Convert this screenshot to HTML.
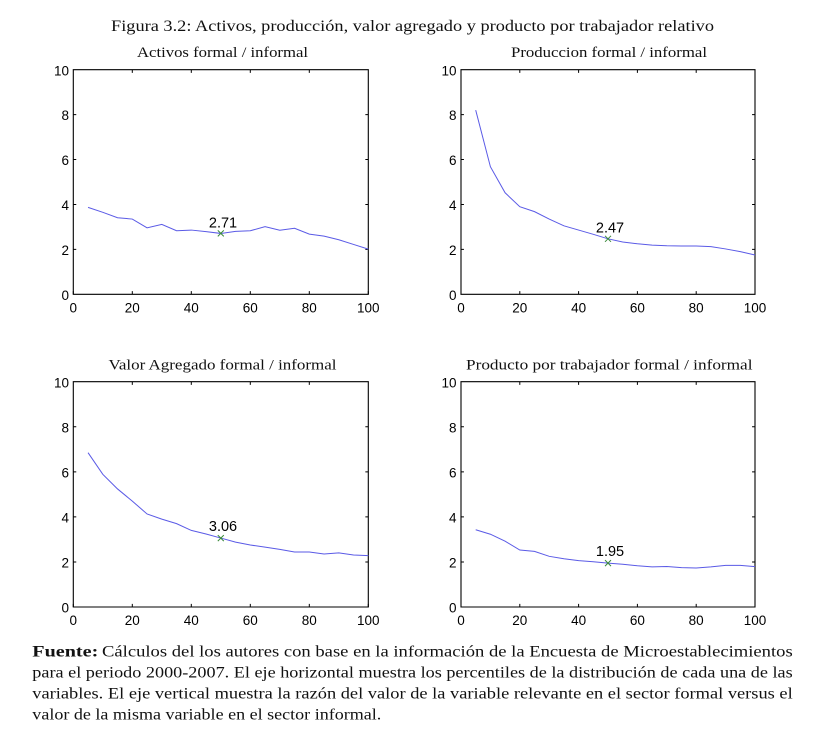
<!DOCTYPE html>
<html><head><meta charset="utf-8"><style>
html,body{margin:0;padding:0;background:#fff;}
svg{display:block;}
.t{font-family:"Liberation Sans",Arial,sans-serif;font-size:13.5px;fill:#000;}
.a{font-family:"Liberation Sans",Arial,sans-serif;font-size:14.5px;fill:#000;}
.s{font-family:"Liberation Serif","Times New Roman",serif;fill:#111;}
</style></head><body>
<svg width="838" height="738" viewBox="0 0 838 738" xmlns="http://www.w3.org/2000/svg">
<rect width="838" height="738" fill="#fff"/>
<!-- Title -->
<text class="s" x="111" y="31" font-size="16" textLength="603" lengthAdjust="spacingAndGlyphs">Figura 3.2: Activos, producción, valor agregado y producto por trabajador relativo</text>
<text class="s" x="137" y="57" font-size="15" textLength="171" lengthAdjust="spacingAndGlyphs">Activos formal / informal</text>
<text class="s" x="511" y="57" font-size="15" textLength="196" lengthAdjust="spacingAndGlyphs">Produccion formal / informal</text>
<text class="s" x="108.5" y="369.5" font-size="15" textLength="228" lengthAdjust="spacingAndGlyphs">Valor Agregado formal / informal</text>
<text class="s" x="466" y="369.5" font-size="15" textLength="286.5" lengthAdjust="spacingAndGlyphs">Producto por trabajador formal / informal</text>

<!-- Panel 1 -->
<g transform="translate(73.3,294.3) scale(2.95,-22.46)" fill="none">
<path d="M0,0 V0.14 M20,0 V0.14 M40,0 V0.14 M60,0 V0.14 M80,0 V0.14 M100,0 V0.14 M20,10 V9.86 M40,10 V9.86 M60,10 V9.86 M80,10 V9.86 M0,2 H1 M0,4 H1 M0,6 H1 M0,8 H1 M100,2 H99 M100,4 H99 M100,6 H99 M100,8 H99" stroke="#000" vector-effect="non-scaling-stroke" stroke-width="1"/>
<rect x="0" y="0" width="100" height="10" stroke="#000" vector-effect="non-scaling-stroke" stroke-width="1.1"/>
<polyline points="5,3.87 10,3.65 15,3.41 20,3.35 25,2.96 30,3.11 35,2.83 40,2.86 45,2.79 50,2.71 55,2.8 60,2.83 65,3.01 70,2.85 75,2.94 80,2.68 85,2.59 90,2.43 95,2.22 100,2.01" stroke="#5a5ae6" vector-effect="non-scaling-stroke" stroke-width="1"/>
</g>
<path d="M217.8,230.4 l6,6 M223.8,230.4 l-6,6" stroke="#3a8a3a" stroke-width="1"/>
<text class="a" x="223" y="227.5" text-anchor="middle">2.71</text>
<g class="t" text-anchor="end">
<text x="69" y="300">0</text><text x="69" y="255">2</text><text x="69" y="210">4</text><text x="69" y="165">6</text><text x="69" y="120">8</text><text x="69" y="75.5">10</text>
</g>
<g class="t" text-anchor="middle">
<text x="73.3" y="312.5">0</text><text x="132.3" y="312.5">20</text><text x="191.3" y="312.5">40</text><text x="250.3" y="312.5">60</text><text x="309.3" y="312.5">80</text><text x="368.3" y="312.5">100</text>
</g>

<!-- Panel 2 -->
<g transform="translate(461,294.3) scale(2.94,-22.46)" fill="none">
<path d="M0,0 V0.14 M20,0 V0.14 M40,0 V0.14 M60,0 V0.14 M80,0 V0.14 M100,0 V0.14 M20,10 V9.86 M40,10 V9.86 M60,10 V9.86 M80,10 V9.86 M0,2 H1 M0,4 H1 M0,6 H1 M0,8 H1 M100,2 H99 M100,4 H99 M100,6 H99 M100,8 H99" stroke="#000" vector-effect="non-scaling-stroke" stroke-width="1"/>
<rect x="0" y="0" width="100" height="10" stroke="#000" vector-effect="non-scaling-stroke" stroke-width="1.1"/>
<polyline points="5,8.2 10,5.68 15,4.52 20,3.9 25,3.68 30,3.35 35,3.05 40,2.86 45,2.67 50,2.47 55,2.33 60,2.25 65,2.19 70,2.16 75,2.15 80,2.15 85,2.12 90,2.02 95,1.9 100,1.75" stroke="#5a5ae6" vector-effect="non-scaling-stroke" stroke-width="1"/>
</g>
<path d="M605,235.8 l6,6 M611,235.8 l-6,6" stroke="#3a8a3a" stroke-width="1"/>
<text class="a" x="610" y="232.5" text-anchor="middle">2.47</text>
<g class="t" text-anchor="end">
<text x="456.5" y="300">0</text><text x="456.5" y="255">2</text><text x="456.5" y="210">4</text><text x="456.5" y="165">6</text><text x="456.5" y="120">8</text><text x="456.5" y="75.5">10</text>
</g>
<g class="t" text-anchor="middle">
<text x="461" y="312.5">0</text><text x="519.8" y="312.5">20</text><text x="578.6" y="312.5">40</text><text x="637.4" y="312.5">60</text><text x="696.2" y="312.5">80</text><text x="755" y="312.5">100</text>
</g>

<!-- Panel 3 -->
<g transform="translate(73.3,607) scale(2.95,-22.53)" fill="none">
<path d="M0,0 V0.14 M20,0 V0.14 M40,0 V0.14 M60,0 V0.14 M80,0 V0.14 M100,0 V0.14 M20,10 V9.86 M40,10 V9.86 M60,10 V9.86 M80,10 V9.86 M0,2 H1 M0,4 H1 M0,6 H1 M0,8 H1 M100,2 H99 M100,4 H99 M100,6 H99 M100,8 H99" stroke="#000" vector-effect="non-scaling-stroke" stroke-width="1"/>
<rect x="0" y="0" width="100" height="10" stroke="#000" vector-effect="non-scaling-stroke" stroke-width="1.1"/>
<polyline points="5,6.85 10,5.89 15,5.24 20,4.7 25,4.13 30,3.9 35,3.7 40,3.4 45,3.24 50,3.06 55,2.88 60,2.75 65,2.66 70,2.56 75,2.44 80,2.44 85,2.35 90,2.4 95,2.31 100,2.28" stroke="#5a5ae6" vector-effect="non-scaling-stroke" stroke-width="1"/>
</g>
<path d="M217.8,535.1 l6,6 M223.8,535.1 l-6,6" stroke="#3a8a3a" stroke-width="1"/>
<text class="a" x="223" y="531" text-anchor="middle">3.06</text>
<g class="t" text-anchor="end">
<text x="69" y="612.5">0</text><text x="69" y="567.5">2</text><text x="69" y="522.5">4</text><text x="69" y="477.5">6</text><text x="69" y="432.5">8</text><text x="69" y="387.5">10</text>
</g>
<g class="t" text-anchor="middle">
<text x="73.3" y="625">0</text><text x="132.3" y="625">20</text><text x="191.3" y="625">40</text><text x="250.3" y="625">60</text><text x="309.3" y="625">80</text><text x="368.3" y="625">100</text>
</g>

<!-- Panel 4 -->
<g transform="translate(461,607) scale(2.94,-22.53)" fill="none">
<path d="M0,0 V0.14 M20,0 V0.14 M40,0 V0.14 M60,0 V0.14 M80,0 V0.14 M100,0 V0.14 M20,10 V9.86 M40,10 V9.86 M60,10 V9.86 M80,10 V9.86 M0,2 H1 M0,4 H1 M0,6 H1 M0,8 H1 M100,2 H99 M100,4 H99 M100,6 H99 M100,8 H99" stroke="#000" vector-effect="non-scaling-stroke" stroke-width="1"/>
<rect x="0" y="0" width="100" height="10" stroke="#000" vector-effect="non-scaling-stroke" stroke-width="1.1"/>
<polyline points="5,3.43 10,3.23 15,2.92 20,2.53 25,2.47 30,2.25 35,2.14 40,2.06 45,2.01 50,1.95 55,1.9 60,1.83 65,1.78 70,1.8 75,1.75 80,1.73 85,1.78 90,1.85 95,1.85 100,1.79" stroke="#5a5ae6" vector-effect="non-scaling-stroke" stroke-width="1"/>
</g>
<path d="M605,560.1 l6,6 M611,560.1 l-6,6" stroke="#3a8a3a" stroke-width="1"/>
<text class="a" x="610" y="556" text-anchor="middle">1.95</text>
<g class="t" text-anchor="end">
<text x="456.5" y="612.5">0</text><text x="456.5" y="567.5">2</text><text x="456.5" y="522.5">4</text><text x="456.5" y="477.5">6</text><text x="456.5" y="432.5">8</text><text x="456.5" y="387.5">10</text>
</g>
<g class="t" text-anchor="middle">
<text x="461" y="625">0</text><text x="519.8" y="625">20</text><text x="578.6" y="625">40</text><text x="637.4" y="625">60</text><text x="696.2" y="625">80</text><text x="755" y="625">100</text>
</g>

<!-- Caption -->
<text class="s" x="32.3" y="656.5" font-size="15.5" font-weight="bold" textLength="66" lengthAdjust="spacingAndGlyphs">Fuente:</text>
<text class="s" x="102" y="656.5" font-size="15.5" textLength="690.7" lengthAdjust="spacingAndGlyphs">Cálculos del los autores con base en la información de la Encuesta de Microestablecimientos</text>
<text class="s" x="32.3" y="677.5" font-size="15.5" textLength="760.4" lengthAdjust="spacingAndGlyphs">para el periodo 2000-2007. El eje horizontal muestra los percentiles de la distribución de cada una de las</text>
<text class="s" x="32.3" y="698.5" font-size="15.5" textLength="760.4" lengthAdjust="spacingAndGlyphs">variables. El eje vertical muestra la razón del valor de la variable relevante en el sector formal versus el</text>
<text class="s" x="32.3" y="719.5" font-size="15.5" textLength="349" lengthAdjust="spacingAndGlyphs">valor de la misma variable en el sector informal.</text>
</svg>
</body></html>
